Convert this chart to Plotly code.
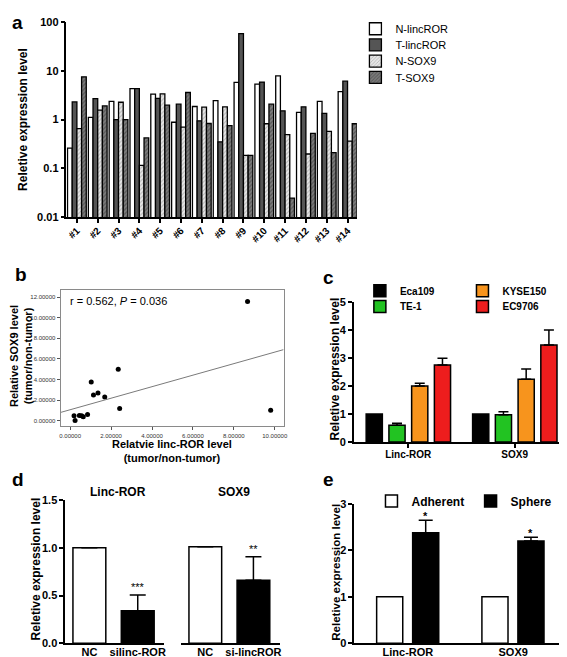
import numpy as np
import plotly.graph_objects as go

W, H = 567, 657
FONT = "Arial, 'Liberation Sans', sans-serif"

# ---------------- data ----------------
# panel a
samples = ["#1", "#2", "#3", "#4", "#5", "#6", "#7", "#8", "#9", "#10", "#11", "#12", "#13", "#14"]
n_lincror = [0.26, 1.11, 2.36, 4.3, 3.3, 0.88, 1.85, 2.44, 5.75, 5.33, 7.8, 1.40, 2.36, 3.74]
t_lincror = [2.29, 2.67, 1.0, 4.3, 2.7, 2.06, 0.94, 0.35, 57.5, 5.84, 1.51, 1.82, 1.34, 6.1]
n_sox9 = [0.65, 1.56, 2.26, 0.115, 3.36, 0.70, 1.79, 1.82, 0.185, 0.82, 0.49, 0.197, 0.57, 0.36]
t_sox9 = [7.5, 1.9, 1.0, 0.42, 1.97, 3.58, 0.83, 0.75, 0.185, 2.06, 0.0247, 0.52, 0.21, 0.82]
a_series = ["N-lincROR", "T-lincROR", "N-SOX9", "T-SOX9"]
a_yticks = [0.01, 0.1, 1, 10, 100]
a_yticktext = ["0.01", "0.1", "1", "10", "100"]

# panel b
b_linc = [0.19, 0.24, 0.45, 0.56, 0.64, 0.85, 1.03, 1.14, 1.36, 1.69, 2.35, 2.42, 9.80, 8.67]
b_sox9 = [0.48, 0.03, 0.50, 0.48, 0.38, 0.60, 3.77, 2.50, 2.70, 2.31, 5.00, 1.20, 1.01, 11.58]
b_stats = "r = 0.562, <i>P</i> = 0.036"

# panel c
c_genes = ["Linc-ROR", "SOX9"]
c_lines = ["Eca109", "TE-1", "KYSE150", "EC9706"]
c_vals = {"Eca109": [1.0, 1.0], "TE-1": [0.60, 0.97], "KYSE150": [2.00, 2.24], "EC9706": [2.75, 3.46]}
c_errs = {"Eca109": None, "TE-1": [0.07, 0.11], "KYSE150": [0.10, 0.37], "EC9706": [0.24, 0.54]}

# panel d
d_lin_groups = ["NC", "silinc-ROR"]
d_lin_vals = [1.0, 0.34]
d_lin_errs = [0.0, 0.165]
d_lin_sig = "***"
d_sox_groups = ["NC", "si-lincROR"]
d_sox_vals = [1.01, 0.66]
d_sox_errs = [0.0, 0.245]
d_sox_sig = "**"

# panel e
e_genes = ["Linc-ROR", "SOX9"]
e_adherent = [1.0, 1.0]
e_sphere = [2.38, 2.20]
e_sphere_err = [0.27, 0.08]
e_sig = ["*", "*"]


# ---------------- helpers ----------------
def dx(p0, p1):
    return [p0 / W, p1 / W]


def dy(top, bottom):
    return [1 - bottom / H, 1 - top / H]


def px(x):
    return x / W


def py(y):
    return 1 - y / H


def f(size, bold=False, color="black"):
    d = dict(family=FONT, size=size, color=color)
    if bold:
        d["weight"] = "bold"
    return d


fig = go.Figure()
legends = {}
_leg_count = [0]


def new_legend(box_cx, cy, font):
    _leg_count[0] += 1
    key = "legend" if _leg_count[0] == 1 else "legend%d" % _leg_count[0]
    legends[key] = dict(x=px(box_cx - 21), y=py(cy), xanchor="left", yanchor="middle",
                        bgcolor="rgba(0,0,0,0)", font=font, borderwidth=0)
    return key


# ---------------- panel a ----------------
a_styles = [
    dict(color="white", pattern=None),
    dict(color="#555555", pattern=None),
    dict(color="#d8d8d8", pattern=dict(shape="/", fgcolor="#8a8a8a", bgcolor="#e6e6e6", size=3, solidity=0.35)),
    dict(color="#6e6e6e", pattern=dict(shape="/", fgcolor="#333333", bgcolor="#7c7c7c", size=3, solidity=0.4)),
]
a_leg_y = [15, 31.5, 48, 64.5]
a_width = 0.225
a_vals = [n_lincror, t_lincror, n_sox9, t_sox9]
for i, (name, vals, st) in enumerate(zip(a_series, a_vals, a_styles)):
    marker = dict(color=st["color"], line=dict(color="black", width=1.3))
    if st["pattern"]:
        marker["pattern"] = st["pattern"]
    fig.add_trace(go.Bar(
        x=samples, y=vals, name=name, width=a_width, offset=-0.45 + i * a_width,
        marker=marker, xaxis="x", yaxis="y", legend=new_legend(370.5, a_leg_y[i], f(11)),
    ))

# ---------------- panel b ----------------
fig.add_trace(go.Scatter(
    x=b_linc, y=b_sox9, mode="markers", marker=dict(color="black", size=5),
    xaxis="x2", yaxis="y2", showlegend=False,
))
slope, intercept = np.polyfit(b_linc, b_sox9, 1)
b_xr = [-0.47, 10.43]
fig.add_trace(go.Scatter(
    x=b_xr, y=[intercept + slope * v for v in b_xr], mode="lines",
    line=dict(color="#7a7a7a", width=1), xaxis="x2", yaxis="y2", showlegend=False,
))

# ---------------- panel c ----------------
c_colors = {"Eca109": "#000000", "TE-1": "#22c322", "KYSE150": "#f7941d", "EC9706": "#ee1d1d"}
c_leg_pos = {"Eca109": (375, 282), "TE-1": (375, 298), "KYSE150": (478.5, 282), "EC9706": (478.5, 298)}
c_width = 0.152
c_pitch = 0.2136
for i, name in enumerate(c_lines):
    kw = {}
    if c_errs[name] is not None:
        kw["error_y"] = dict(type="data", array=c_errs[name], arrayminus=[0, 0], symmetric=False,
                             color="black", thickness=1.5, width=5)
    fig.add_trace(go.Bar(
        x=c_genes, y=c_vals[name], name=name, width=c_width, offset=-0.395 + i * c_pitch,
        marker=dict(color=c_colors[name], line=dict(color="black", width=1.5)),
        xaxis="x3", yaxis="y3", legend=new_legend(*c_leg_pos[name], f(10, True)), **kw,
    ))

# ---------------- panel d ----------------
d_width = 0.68
fig.add_trace(go.Bar(
    x=d_lin_groups, y=d_lin_vals, width=d_width, offset=-d_width / 2,
    marker=dict(color=["white", "black"], line=dict(color="black", width=1.5)),
    error_y=dict(type="data", array=d_lin_errs, arrayminus=[0, 0], symmetric=False,
                 color="black", thickness=1.5, width=8),
    xaxis="x4", yaxis="y4", showlegend=False,
))
fig.add_trace(go.Bar(
    x=d_sox_groups, y=d_sox_vals, width=d_width, offset=-d_width / 2,
    marker=dict(color=["white", "black"], line=dict(color="black", width=1.5)),
    error_y=dict(type="data", array=d_sox_errs, arrayminus=[0, 0], symmetric=False,
                 color="black", thickness=1.5, width=8),
    xaxis="x5", yaxis="y5", showlegend=False,
))

# ---------------- panel e ----------------
e_width = 0.248
e_offsets = [-0.297, 0.045]
fig.add_trace(go.Bar(
    x=e_genes, y=e_adherent, name="Adherent", width=e_width, offset=e_offsets[0],
    marker=dict(color="white", line=dict(color="black", width=1.5)),
    xaxis="x6", yaxis="y6", legend=new_legend(386.7, 496, f(12, True)),
))
fig.add_trace(go.Bar(
    x=e_genes, y=e_sphere, name="Sphere", width=e_width, offset=e_offsets[1],
    marker=dict(color="black", line=dict(color="black", width=1.5)),
    error_y=dict(type="data", array=e_sphere_err, arrayminus=[0, 0], symmetric=False,
                 color="black", thickness=1.5, width=7),
    xaxis="x6", yaxis="y6", legend=new_legend(486.7, 496, f(12, True)),
))

# ---------------- axes ----------------
AX = dict(showline=True, linecolor="black", linewidth=1.5, showgrid=False, zeroline=False,
          ticks="outside", tickcolor="black", tickwidth=1.5, ticklen=4)

layout = dict(
    width=W, height=H, margin=dict(l=0, r=0, t=0, b=0),
    paper_bgcolor="white", plot_bgcolor="white", barmode="overlay",
    font=f(11),
    xaxis=dict(AX, domain=dx(58, 351), type="category", range=[-0.5, 13.45], anchor="y",
               tickangle=-45, tickfont=f(10, True), ticklen=4, ticklabelstandoff=-2),
    yaxis=dict(AX, domain=dy(8, 207), type="log", range=[-2, 2], anchor="x",
               tickvals=a_yticks, ticktext=a_yticktext, tickfont=f(11, True)),
    xaxis2=dict(AX, domain=dx(52, 277), range=b_xr, anchor="y2", linecolor="#8a8a8a",
                linewidth=1, mirror=True, tickvals=[0, 2, 4, 6, 8, 10], tickformat=".5f",
                ticklen=3, tickwidth=1, tickcolor="#555", tickfont=f(6, color="#333")),
    yaxis2=dict(AX, domain=dy(281, 420), range=[-0.54, 12.7], anchor="x2", linecolor="#8a8a8a",
                linewidth=1, mirror=True, tickvals=[0, 2, 4, 6, 8, 10, 12], tickformat=".5f",
                ticklen=3, tickwidth=1, tickcolor="#555", tickfont=f(6, color="#333")),
    xaxis3=dict(AX, domain=dx(348, 566), type="category", range=[-0.51, 1.52], anchor="y3",
                tickfont=f(10, True), ticklabelstandoff=-2),
    yaxis3=dict(AX, domain=dy(293.3, 436), range=[0, 5], dtick=1, anchor="x3",
                tickfont=f(11, True)),
    xaxis4=dict(AX, domain=dx(56.7, 156.7), type="category", range=[-0.5, 1.55], anchor="y4",
                ticks="", tickfont=f(11, True), ticklabelstandoff=-2),
    yaxis4=dict(AX, domain=dy(495, 641), range=[0, 1.5], tickvals=[0, 0.5, 1.0, 1.5],
                tickformat=".1f", anchor="x4", tickfont=f(11, True)),
    xaxis5=dict(AX, domain=dx(173.3, 273.3), type="category", range=[-0.51, 1.55], anchor="y5",
                ticks="", tickfont=f(11, True), ticklabelstandoff=-2),
    yaxis5=dict(domain=dy(495, 641), range=[0, 1.5], anchor="x5", visible=False),
    xaxis6=dict(AX, domain=dx(348.3, 566), type="category", range=[-0.51, 1.54], anchor="y6",
                ticks="", tickfont=f(11, True), ticklabelstandoff=-2),
    yaxis6=dict(AX, domain=dy(499, 641), range=[0, 3], dtick=1, anchor="x6",
                tickfont=f(11, True)),
)
layout.update(legends)
fig.update_layout(**layout)

# ---------------- annotations ----------------
ann = []


def label(text, x, y, size=12, bold=True, angle=0, xanchor="center", yanchor="middle", **kw):
    ann.append(dict(text=text, x=px(x), y=py(y), xref="paper", yref="paper", showarrow=False,
                    font=f(size, bold), textangle=angle, xanchor=xanchor, yanchor=yanchor, **kw))


# panel letters
for letter, x, y in [("a", 9, 9), ("b", 12, 265), ("c", 322, 268), ("d", 9, 474), ("e", 322, 474)]:
    label(letter, x, y, size=19)

# axis titles
label("Reletive expression level", 14, 107, angle=-90)
label("Relative SOX9 level<br>(tumor/non-tumor)", 12, 348.5, size=11, angle=-90)
label("Relatvie linc-ROR level<br>(tumor/non-tumor)", 164, 445.5, size=11)
label("Reletive expression level", 329, 362, angle=-90)
label("Reletive expression level", 27, 565, angle=-90)
label("Reletive expression level", 330, 569, size=11.5, angle=-90)

# panel d titles
label("Linc-ROR", 110, 487)
label("SOX9", 227, 487)

# stats text in panel b
label(b_stats, 60, 292, size=11, bold=False, xanchor="left")

# significance marks
ann.append(dict(text=d_lin_sig, x=1, y=d_lin_vals[1] + d_lin_errs[1], xref="x4", yref="y4",
                showarrow=False, yanchor="bottom", font=f(11)))
ann.append(dict(text=d_sox_sig, x=1, y=d_sox_vals[1] + d_sox_errs[1], xref="x5", yref="y5",
                showarrow=False, yanchor="bottom", font=f(11)))
for i in range(2):
    ann.append(dict(text=e_sig[i], x=i + e_offsets[1] + e_width / 2, y=e_sphere[i] + e_sphere_err[i],
                    xref="x6", yref="y6", showarrow=False, yanchor="bottom", yshift=-4,
                    font=f(11, True)))

fig.update_layout(annotations=ann)

fig.write_html("out.html")
